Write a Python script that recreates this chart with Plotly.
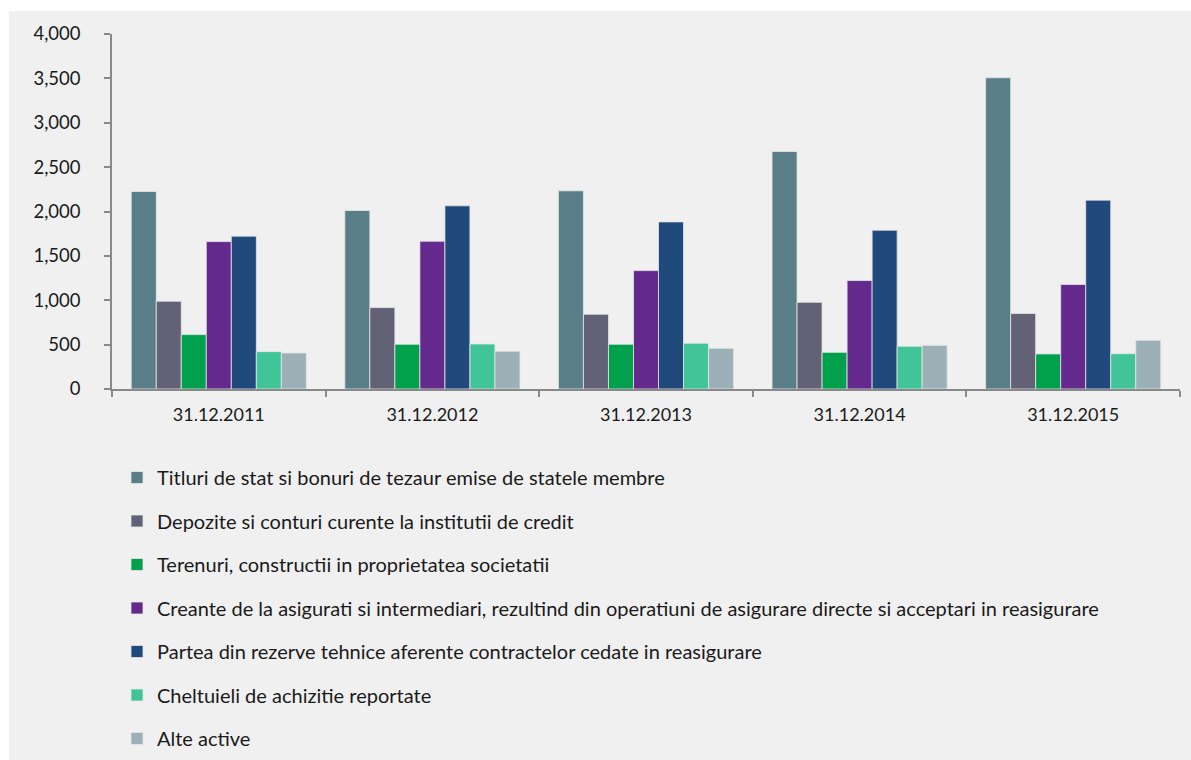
import plotly.graph_objects as go

categories = ["31.12.2011", "31.12.2012", "31.12.2013", "31.12.2014", "31.12.2015"]

series_names = [
    "Titluri de stat si bonuri de tezaur emise de statele membre",
    "Depozite si conturi curente la institutii de credit",
    "Terenuri, constructii in proprietatea societatii",
    "Creante de la asigurati si intermediari, rezultind din operatiuni de asigurare directe si acceptari in reasigurare",
    "Partea din rezerve tehnice aferente contractelor cedate in reasigurare",
    "Cheltuieli de achizitie reportate",
    "Alte active",
]

titluri = [2225, 2011, 2233, 2676, 3507]
depozite = [989, 917, 842, 977, 850]
terenuri = [613, 504, 504, 413, 395]
creante = [1661, 1665, 1334, 1222, 1177]
partea = [1722, 2064, 1883, 1789, 2128]
cheltuieli = [421, 507, 515, 481, 398]
alte = [406, 425, 459, 492, 549]

series_values = [titluri, depozite, terenuri, creante, partea, cheltuieli, alte]
colors = ["#597E87", "#636175", "#00A04C", "#63298C", "#20497C", "#41C497", "#9CB1B7"]

FONT = "Lato"
TEXT_COLOR = "#1A1A1A"

fig = go.Figure()
for i, (name, vals, col) in enumerate(zip(series_names, series_values, colors)):
    fig.add_trace(go.Bar(
        x=categories, y=vals, name=name,
        marker=dict(color=col, line=dict(color="rgba(230,230,230,0.8)", width=1)),
        legendgroup=f"g{i}",
    ))

W, H = 1191, 760
L, R, T, B = 112, 11, 34, 371
pw = W - L - R
ph = H - T - B

def px_to_paper_x(px):
    return (px - L) / pw

def px_to_paper_y(py):
    return (H - B - py) / ph

fig.update_layout(
    width=W, height=H,
    margin=dict(l=L, r=R, t=T, b=B, pad=0, autoexpand=False),
    paper_bgcolor="white",
    plot_bgcolor="rgba(0,0,0,0)",
    barmode="group",
    bargap=0.18,
    bargroupgap=0,
    font=dict(family=FONT, size=18, color=TEXT_COLOR),
    showlegend=True,
    legend=dict(
        x=px_to_paper_x(117), y=px_to_paper_y(458),
        xanchor="left", yanchor="top",
        orientation="v",
        traceorder="grouped",
        tracegroupgap=14.5,
        bgcolor="rgba(0,0,0,0)",
        font=dict(family=FONT, size=20, color=TEXT_COLOR),
    ),
    shapes=[dict(
        type="rect", xref="paper", yref="paper", layer="below",
        x0=px_to_paper_x(9), x1=px_to_paper_x(1191),
        y0=px_to_paper_y(760), y1=px_to_paper_y(11),
        fillcolor="#F0F0F0", line=dict(width=0),
    )],
    xaxis=dict(
        showline=True, linecolor="#898989", linewidth=1.5,
        ticks="outside", ticklen=6, tickcolor="#898989", tickwidth=1.5,
        tickson="boundaries",
        showgrid=False, zeroline=False,
        ticklabelstandoff=9,
        tickfont=dict(family=FONT, size=18, color=TEXT_COLOR),
    ),
    yaxis=dict(
        range=[0, 4000], dtick=500, tickformat=",",
        showline=True, linecolor="#898989", linewidth=1.5,
        ticks="outside", ticklen=6, tickcolor="#898989", tickwidth=1.5,
        showgrid=False, zeroline=False,
        ticklabelstandoff=20,
        tickfont=dict(family=FONT, size=18.5, color=TEXT_COLOR),
    ),
)

fig.write_html(
    "out.html",
    config={"displayModeBar": False},
    post_script="document.body.style.margin='0px';document.body.style.padding='0px';",
)
